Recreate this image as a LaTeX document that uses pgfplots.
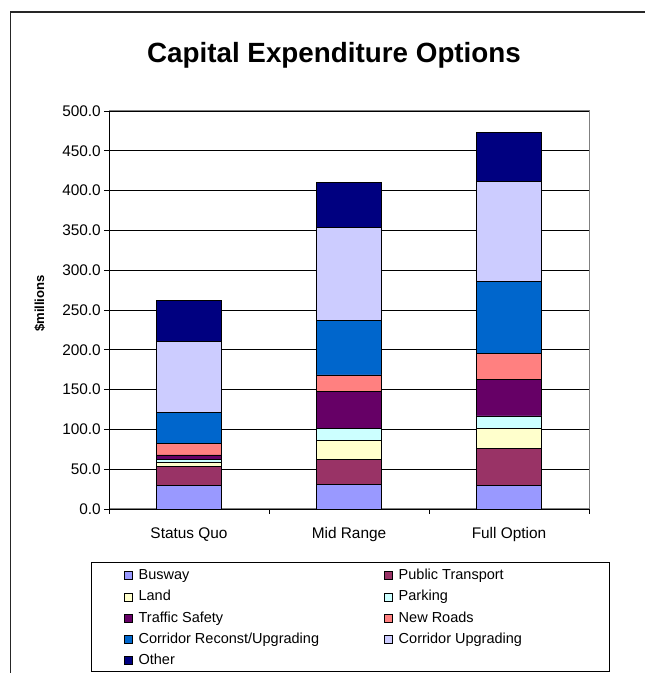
\documentclass[border=0pt]{standalone}
\usepackage{pgfplots}
\pgfplotsset{compat=1.18}
\usepackage{fontspec}
\setmainfont{Liberation Sans}
\definecolor{cBus}{HTML}{9999FF}
\definecolor{cPT}{HTML}{993366}
\definecolor{cLand}{HTML}{FFFFCC}
\definecolor{cPark}{HTML}{CCFFFF}
\definecolor{cTraf}{HTML}{660066}
\definecolor{cNew}{HTML}{FF8080}
\definecolor{cRec}{HTML}{0066CC}
\definecolor{cUpg}{HTML}{CCCCFF}
\definecolor{cOth}{HTML}{000080}
\begin{document}
\begin{tikzpicture}[x=1bp,y=1bp]
\useasboundingbox (0,0) rectangle (645,673);
\draw[line width=1.3bp, black!85] (10.5,-5) -- (10.5,661) -- (660,661);
\node[font=\fontsize{27.8bp}{30bp}\selectfont\bfseries, anchor=base] at (334,610.5) {Capital Expenditure Options};
\node[rotate=90, anchor=base, font=\fontsize{13.1bp}{15bp}\selectfont\bfseries] at (44,369.5) {\$millions};
\draw[line width=0.9bp, black] (91,2) rectangle (609,111);
\begin{axis}[
  at={(109bp,164bp)}, anchor=south west,
  scale only axis, width=480bp, height=398bp,
  ybar stacked, bar width=65bp,
  xmin=-0.5, xmax=2.5, ymin=0, ymax=500,
  xtick={0,1,2}, xticklabels={Status Quo, Mid Range, Full Option},
  minor xtick={-0.5,0.5,1.5,2.5},
  major x tick style={draw=none},
  ytick={0,50,...,500},
  ymajorgrids, grid style={black, line width=0.8bp},
  axis line style={black!50, line width=1bp},
  tick align=outside, tick pos=left,
  major tick length=5bp, minor tick length=5bp,
  every tick/.style={black, line width=0.8bp},
  /pgf/number format/assume math mode=true,
  yticklabel style={/pgf/number format/fixed, /pgf/number format/fixed zerofill, /pgf/number format/precision=1,
     font=\fontsize{15.4bp}{18bp}\selectfont, anchor=east, inner sep=0pt, xshift=-3bp},
  xticklabel style={font=\fontsize{15.4bp}{18bp}\selectfont, anchor=base, inner sep=0pt, yshift=-25bp},
  every axis plot/.append style={draw=black, line width=0.7bp},
  legend columns=2, legend cell align=left,
  legend style={at={(0.03125,-0.1515)}, anchor=north west, draw=none, fill=none,
     inner sep=0pt, outer sep=0pt, font=\fontsize{14.5bp}{17bp}\selectfont,
     column sep=6bp, /tikz/column 2/.style={column sep=65bp}, row sep=9.1bp, nodes={inner sep=0pt}},
  legend image code/.code={\draw[#1, line width=0.6bp] (0bp,-4.5bp) rectangle (8bp,3.5bp);},
]
\addplot[fill=cBus] coordinates {(0,30) (1,30.5) (2,30)};
\addlegendentry{Busway}
\addplot[fill=cPT] coordinates {(0,23) (1,31.5) (2,46)};
\addlegendentry{Public Transport}
\addplot[fill=cLand] coordinates {(0,5) (1,24) (2,25)};
\addlegendentry{Land}
\addplot[fill=cPark] coordinates {(0,4.6) (1,15.5) (2,16)};
\addlegendentry{Parking}
\addplot[fill=cTraf] coordinates {(0,5.4) (1,46) (2,46)};
\addlegendentry{Traffic Safety}
\addplot[fill=cNew] coordinates {(0,14) (1,21) (2,32)};
\addlegendentry{New Roads}
\addplot[fill=cRec] coordinates {(0,39) (1,68.5) (2,90.5)};
\addlegendentry{Corridor Reconst/Upgrading}
\addplot[fill=cUpg] coordinates {(0,89.5) (1,117) (2,126.5)};
\addlegendentry{Corridor Upgrading}
\addplot[fill=cOth] coordinates {(0,52) (1,56.5) (2,61.5)};
\addlegendentry{Other}
\draw[black, line width=1bp] (axis cs:-0.5,0) -- (axis cs:-0.5,500);
\end{axis}
\end{tikzpicture}
\end{document}
